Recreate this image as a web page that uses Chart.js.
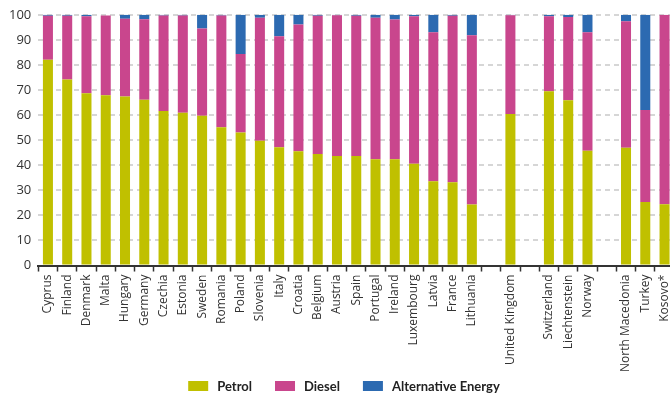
<!DOCTYPE html>
<html>
<head>
<meta charset="utf-8">
<script src="https://cdn.jsdelivr.net/npm/chart.js@4/dist/chart.umd.min.js"></script>
<style>
  html, body { margin: 0; padding: 0; background: #fff; }
  #wrap { width: 670px; height: 399px; overflow: hidden; }
</style>
</head>
<body>
<div id="wrap"><canvas id="fuelChart" width="682" height="399"></canvas></div>
<script>
  // Share of new cars by fuel type (%), empty strings are spacer slots
  const categories = [
    "Cyprus", "Finland", "Denmark", "Malta", "Hungary", "Germany", "Czechia", "Estonia",
    "Sweden", "Romania", "Poland", "Slovenia", "Italy", "Croatia", "Belgium", "Austria",
    "Spain", "Portugal", "Ireland", "Luxembourg", "Latvia", "France", "Lithuania", "",
    "United Kingdom", "", "Switzerland", "Liechtenstein", "Norway", "",
    "North Macedonia", "Turkey", "Kosovo*"
  ];

  const petrol = [
    82.1, 74.2, 68.7, 67.9, 67.4, 66.1, 61.6, 60.9,
    59.7, 55.1, 53.1, 49.8, 47.2, 45.6, 44.5, 43.7,
    43.7, 42.4, 42.4, 40.6, 33.6, 33.2, 24.3, null,
    60.4, null, 69.5, 65.9, 45.8, null,
    47.0, 25.3, 24.4
  ];

  const diesel = [
    17.5, 25.4, 30.7, 31.8, 31.0, 32.1, 38.1, 38.8,
    34.8, 44.6, 31.3, 49.0, 44.2, 50.5, 55.1, 56.1,
    55.9, 56.4, 55.7, 58.8, 59.4, 66.4, 67.5, null,
    39.4, null, 29.9, 33.2, 47.2, null,
    50.4, 36.7, 75.6
  ];

  const alternative = [
    0.4, 0.4, 0.6, 0, 1.6, 1.8, 0.3, 0.3,
    5.5, 0.3, 15.6, 1.2, 8.6, 3.9, 0.4, 0.2,
    0.4, 1.2, 1.9, 0.6, 7.0, 0.4, 8.2, null,
    0.2, null, 0.6, 0.9, 7.0, null,
    2.6, 38.0, 0
  ];

  const yTicks = [0, 10, 20, 30, 40, 50, 60, 70, 80, 90, 100];

  const ctx = document.getElementById("fuelChart").getContext("2d");

  // legend drawn under the labels: coloured box + bold text
  const bottomLegend = {
    id: "bottomLegend",
    afterDraw(chart) {
      const c = chart.ctx;
      const items = chart.data.datasets;
      c.save();
      c.font = "bold 13px Lato";
      c.textBaseline = "middle";
      const boxW = 20, boxH = 10, gap = 9, spacing = 23;
      const widths = items.map(ds => boxW + gap + c.measureText(ds.label).width);
      const total = widths.reduce((a, b) => a + b, 0) + spacing * (items.length - 1);
      let x = 344 - total / 2;
      const y = 386;
      items.forEach((ds, i) => {
        c.fillStyle = ds.backgroundColor;
        c.fillRect(x, y - boxH / 2, boxW, boxH);
        c.fillStyle = "#222";
        c.fillText(ds.label, x + boxW + gap, y + 1);
        x += widths[i] + spacing;
      });
      c.restore();
    }
  };

  new Chart(ctx, {
    type: "bar",
    data: {
      labels: categories,
      datasets: [
        { label: "Petrol", data: petrol, backgroundColor: "#c0c000" },
        { label: "Diesel", data: diesel, backgroundColor: "#c9468d" },
        { label: "Alternative Energy", data: alternative, backgroundColor: "#2c6ab1" }
      ]
    },
    options: {
      responsive: false,
      animation: false,
      layout: { padding: { top: 0, left: 2, right: 3, bottom: 24 } },
      datasets: {
        bar: { barPercentage: 0.52, categoryPercentage: 1.0 }
      },
      scales: {
        x: {
          stacked: true,
          border: { display: true, color: "#333", width: 2 },
          grid: {
            display: true,
            drawOnChartArea: false,
            drawTicks: true,
            tickLength: 6,
            tickWidth: 1.5,
            color: "#333"
          },
          ticks: {
            autoSkip: false,
            maxRotation: 90,
            minRotation: 90,
            padding: 3,
            color: "#333",
            font: { family: "Open Sans", size: 12 }
          }
        },
        y: {
          stacked: true,
          min: 0,
          max: 100,
          afterBuildTicks: axis => { axis.ticks = yTicks.map(v => ({ value: v })); },
          border: { display: false, dash: [5, 4] },
          grid: {
            color: "#d6d6d6",
            lineWidth: 2,
            drawTicks: false
          },
          ticks: {
            padding: 7,
            color: "#333",
            font: { family: "Open Sans", size: 13 }
          }
        }
      },
      plugins: {
        legend: { display: false },
        tooltip: { enabled: false }
      }
    },
    plugins: [bottomLegend]
  });
</script>
</body>
</html>
